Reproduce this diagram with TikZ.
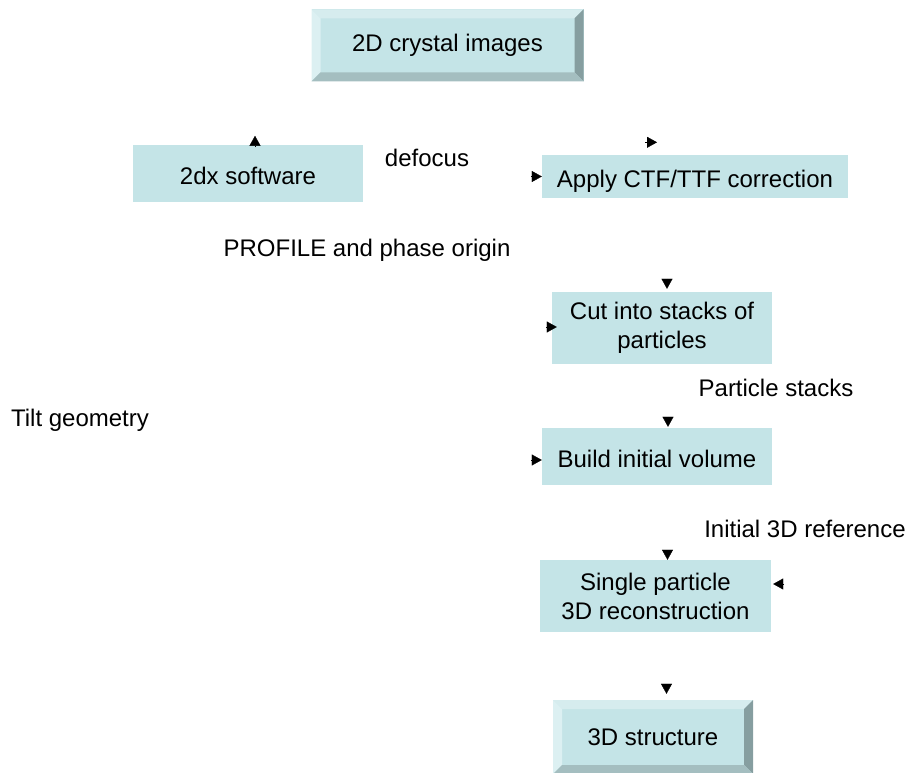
\documentclass[tikz,border=0pt]{standalone}
\usepackage{fontspec}
\setmainfont{Liberation Sans}
\usetikzlibrary{arrows.meta}

\definecolor{boxfill}{RGB}{196,228,231}
\definecolor{bevtop}{RGB}{214,236,238}
\definecolor{bevleft}{RGB}{220,240,242}
\definecolor{bevright}{RGB}{134,158,160}
\definecolor{bevbottom}{RGB}{164,190,192}

\begin{document}
\begin{tikzpicture}[x=1pt,y=1pt,
    font=\fontsize{24}{29}\selectfont,
    box/.style={fill=boxfill, align=center, inner sep=0pt},
    lowtext/.style={text height=27pt, text depth=5pt},
    bevelbox/.style={box, path picture={
        \fill[bevtop] (path picture bounding box.north west) -- (path picture bounding box.north east)
            -- ([shift={(-9pt,-9pt)}]path picture bounding box.north east) -- ([shift={(9pt,-9pt)}]path picture bounding box.north west) -- cycle;
        \fill[bevleft] (path picture bounding box.north west) -- (path picture bounding box.south west)
            -- ([shift={(9pt,9pt)}]path picture bounding box.south west) -- ([shift={(9pt,-9pt)}]path picture bounding box.north west) -- cycle;
        \fill[bevright] (path picture bounding box.north east) -- (path picture bounding box.south east)
            -- ([shift={(-9pt,9pt)}]path picture bounding box.south east) -- ([shift={(-9pt,-9pt)}]path picture bounding box.north east) -- cycle;
        \fill[bevbottom] (path picture bounding box.south west) -- (path picture bounding box.south east)
            -- ([shift={(-9pt,9pt)}]path picture bounding box.south east) -- ([shift={(9pt,9pt)}]path picture bounding box.south west) -- cycle;
    }},
    tip/.style={line width=0.3pt, -{Triangle[length=10pt,width=11pt]}}]

            \useasboundingbox (0,0) rectangle (911,772);

            \node[bevelbox, minimum width=272pt, minimum height=72pt] (crystal) at (447.5,726.5) {2D crystal images};

            \node[box, lowtext, minimum width=230pt, minimum height=57pt] (soft) at (248,598.5) {2dx software};
            \node[box, lowtext, minimum width=306pt, minimum height=43pt] (ctf) at (695,595.5) {Apply CTF/TTF correction};

            \node[box, minimum width=220pt, minimum height=72pt] (cut) at (662,444) {Cut into stacks of\\particles};
            \node[box, lowtext, minimum width=230pt, minimum height=57pt] (build) at (657,315.5) {Build initial volume};
            \node[box, minimum width=231pt, minimum height=72pt] (single) at (655.5,176) {Single particle\\3D reconstruction};

            \node[bevelbox, minimum width=200pt, minimum height=74pt] (struct) at (653,35) {3D structure};

            % labels
            \node (defocus) at (427,614) {defocus};
            \node (profile) at (367,522) {PROFILE and phase origin};
            \node (stacks) at (776,384) {Particle stacks};
            \node (tilt) at (80,352) {Tilt geometry};
            \node (initref) at (805,243) {Initial 3D reference};

            % arrow heads
            \draw[tip] ([xshift=7pt,yshift=-1pt]soft.north) -- ([xshift=7pt,yshift=9pt]soft.north);
            \draw[tip] ([xshift=-50pt,yshift=12.5pt]ctf.north) -- ([xshift=-38pt,yshift=12.5pt]ctf.north);
            \draw[tip] ([xshift=-11pt]ctf.west) -- (ctf.west);
            \draw[tip] ([xshift=5pt,yshift=13pt]cut.north) -- ([xshift=5pt,yshift=3pt]cut.north);
            \draw[tip] ([xshift=-6pt,yshift=1pt]cut.west) -- ([xshift=5pt,yshift=1pt]cut.west);
            \draw[tip] ([xshift=11pt,yshift=11pt]build.north) -- ([xshift=11pt,yshift=1pt]build.north);
            \draw[tip] ([xshift=-11pt,yshift=-3.5pt]build.west) -- ([yshift=-3.5pt]build.west);
            \draw[tip] ([xshift=12pt,yshift=9pt]single.north) -- ([xshift=12pt,yshift=0pt]single.north);
            \draw[tip] ([xshift=13pt,yshift=12pt]single.east) -- ([xshift=2pt,yshift=12pt]single.east);
            \draw[tip] ([xshift=13.5pt,yshift=15pt]struct.north) -- ([xshift=13.5pt,yshift=6pt]struct.north);
        \end{tikzpicture}
\end{document}
